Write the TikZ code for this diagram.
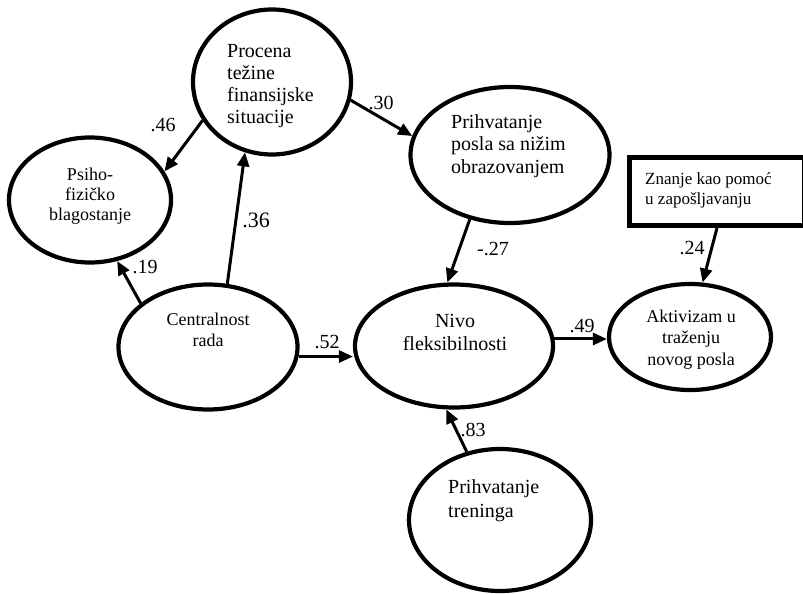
\documentclass[tikz,border=0pt]{standalone}
\usepackage{fontspec}
\setmainfont{Liberation Serif}
\usetikzlibrary{shapes.geometric,arrows.meta}
\tikzset{
  latent/.style={draw=black, line width=4.2pt, ellipse, inner sep=0pt},
  obsbox/.style={draw=black, line width=5pt, rectangle, inner sep=0pt},
  lbl/.style={inner sep=0pt, font=\fontsize{20}{22}\selectfont},
  txt/.style={inner sep=0pt},
  conn/.style={line width=3pt, -{Triangle[length=14pt,width=12pt]}},
}
\begin{document}
\begin{tikzpicture}[x=1pt,y=-1pt]
\useasboundingbox (0,0) rectangle (803,594);
\clip (0,0) rectangle (803,594);
% ellipses
\node[latent, minimum width=158pt, minimum height=145pt] (proc) at (272,82) {};
\node[latent, minimum width=162pt, minimum height=125pt] (psiho) at (90,200) {};
\node[latent, minimum width=179pt, minimum height=125pt] (cent) at (208,347) {};
\node[latent, minimum width=199pt, minimum height=136pt] (posla) at (510,155) {};
\node[latent, minimum width=198pt, minimum height=123pt] (nivo) at (454,346) {};
\node[latent, minimum width=162pt, minimum height=106pt] (akt) at (690,337) {};
\node[latent, minimum width=182pt, minimum height=142pt] (tren) at (500,520) {};
\node[obsbox, minimum width=175pt, minimum height=68pt] (box) at (717,191.5) {};
% texts (anchored at the baseline of the last line)
\node[txt, anchor=base west, align=left, font=\fontsize{20}{22}\selectfont] (procT) at (227,123) {Procena\\težine\\finansijske\\situacije};
\node[txt, anchor=base, align=center, font=\fontsize{18}{20}\selectfont] (psihoT) at (90,220) {Psiho-\\fizičko\\blagostanje};
\node[txt, anchor=base, align=center, font=\fontsize{18}{21}\selectfont] (centT) at (208,346) {Centralnost\\rada};
\node[txt, anchor=base west, align=left, font=\fontsize{20}{22.5}\selectfont] (poslaT) at (451,173) {Prihvatanje\\posla sa nižim\\obrazovanjem};
\node[txt, anchor=base west, align=left, font=\fontsize{17}{20}\selectfont] (boxT) at (645,204) {Znanje kao pomoć\\u zapošljavanju};
\node[txt, anchor=base, align=center, font=\fontsize{20}{23}\selectfont] (nivoT) at (455,350) {Nivo\\fleksibilnosti};
\node[txt, anchor=base, align=center, font=\fontsize{18}{21.5}\selectfont] (aktT) at (691,365) {Aktivizam u\\traženju\\novog posla};
\node[txt, anchor=base west, align=left, font=\fontsize{20}{24}\selectfont] (trenT) at (448,517) {Prihvatanje\\treninga};
% connectors
\draw[conn] (proc.209.4) -- (psiho.21);
\draw[conn] (cent.73.5) -- (proc.249.5);
\draw[conn] (cent.147.6) -- (psiho.294);
\draw[conn] (proc.347.6) -- (posla.169.8);
\draw[conn] (posla.238.4) -- (nivo.96.2);
\draw[conn] (box.south) -- (akt.77.5);
\draw[conn] (cent.354.33) -- (cent.354.33 -| nivo.west);
\draw[conn] (nivo.4.56) -- (nivo.4.56 -| akt.west);
\draw[conn] (tren.116.3) -- (nivo.263.9);
% coefficient labels
\node[lbl] (l46) at (163,125) {.46};
\node[lbl, font=\fontsize{22}{24}\selectfont] (l36) at (256,220) {.36};
\node[lbl] (l19) at (145,267) {.19};
\node[lbl] (l30) at (381,103) {.30};
\node[lbl] (l27) at (493,249) {-.27};
\node[lbl] (l24) at (692,248) {.24};
\node[lbl] (l52) at (327,342) {.52};
\node[lbl] (l49) at (582,326) {.49};
\node[lbl] (l83) at (473,430) {.83};
\end{tikzpicture}
\end{document}
